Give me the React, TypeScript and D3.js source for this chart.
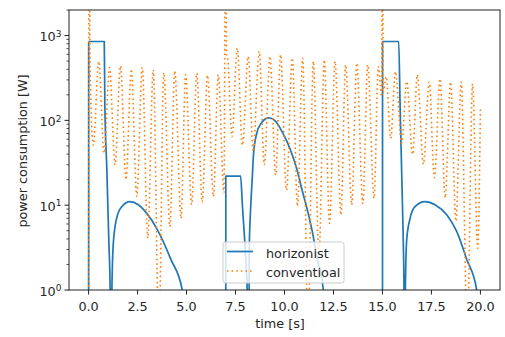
import React from 'react';
import * as d3 from 'd3';

// horizonist power [W] over time [s]
const horizT = [0, 0.005, 0.8, 0.83, 0.93, 1.03, 1.1, 1.12, 1.17, 1.19, 1.26, 1.43, 1.69, 2.11, 2.54, 2.97, 3.48, 4.2, 4.78, 4.95, 5.0,
  7.0, 7.005, 7.76, 7.85, 7.95, 8.05, 8.1, 8.12, 8.15, 8.2, 8.27, 8.35, 8.42, 8.58, 8.8, 9.2, 9.5, 9.9, 10.3, 10.62, 10.9, 11.21, 11.45, 11.64, 11.98, 12.1,
  15.0, 15.005, 15.83, 15.9, 15.98, 16.06, 16.1, 16.12, 16.15, 16.17, 16.24, 16.41, 16.66, 17.17, 17.68, 18.28, 18.79, 19.3, 19.81, 19.95, 20.0];
const horizP = [0, 850, 850, 150, 27, 4, 1, 0, 0, 1, 3.5, 7.0, 9.6, 11.0, 10.1, 8.0, 5.3, 2.3, 1.0, 0.5, 0,
  0, 22, 22, 10, 4.5, 1.8, 0.9, 0, 0, 3, 9, 20, 40, 70, 92, 107, 100, 72, 45, 27, 15, 8.0, 4.5, 2.5, 1.0, 0,
  0, 850, 850, 150, 25, 4, 1, 0, 0, 1, 4, 7, 9.6, 11.0, 10.1, 7.7, 4.9, 2.3, 1.0, 0.4, 0];

// conventional power [W] over time [s]
const convT = [0, 0.02, 0.08, 0.24, 0.52, 0.79, 1.07, 1.35, 1.63, 1.91, 2.18, 2.46, 2.74, 3.02, 3.3, 3.59, 3.84, 4.15, 4.4, 4.72,
  4.95, 5.26, 5.52, 5.8, 6.07, 6.37, 6.62, 6.91, 7.0, 7.04, 7.1, 7.32, 7.59, 7.85, 8.15, 8.4, 8.71, 8.97, 9.26, 9.55,
  9.8, 10.1, 10.4, 10.66, 10.93, 11.2, 11.47, 11.76, 12.03, 12.3, 12.58, 12.88, 13.12, 13.43, 13.69, 14.0, 14.25, 14.57, 14.79, 14.96,
  15.0, 15.04, 15.19, 15.42, 15.66, 15.98, 16.24, 16.54, 16.78, 17.09, 17.39, 17.65, 17.94, 18.2, 18.48, 18.75, 19.02, 19.33, 19.6, 19.86, 20.0];
const convP = [0, 1e5, 380, 51, 496, 41, 418, 30, 437, 20, 400, 12.7, 418, 4.1, 394, 0.3, 366, 5.6, 383, 7.0,
  344, 10.2, 360, 10.9, 339, 12.7, 344, 14, 1e5, 600, 540, 64, 710, 51, 565, 42.8, 647, 30, 565, 22.7,
  592, 15.1, 540, 9.7, 540, 0.3, 496, 2.5, 516, 6.1, 496, 7.7, 451, 10.1, 472, 10.5, 451, 12.1, 430, 190,
  1e5, 215, 328, 61.5, 376, 53.7, 287, 39.8, 344, 30.4, 282, 21.1, 308, 12.3, 282, 6.5, 282, 0.3, 269, 3.1, 136];

const xTicks = [0, 2.5, 5, 7.5, 10, 12.5, 15, 17.5, 20];
const yTickExps = [0, 1, 2, 3];
const seriesNames = ['horizonist', 'conventioal'];
const seriesColors = ['#1f77b4', '#ff7f0e'];

const W = 505, H = 337;
const L = 69, R = 500, T = 10, B = 290;
const FONT = 'DejaVu Sans, sans-serif';
const FS = 12.8;
const DOT = '1.6,3';

export default function App() {
  const x = d3.scaleLinear().domain([-1, 21]).range([L, R]);
  const y = d3.scaleLog().domain([1, 2000]).range([B, T]);
  const yv = (v: number) => y(Math.max(v, 1e-3));
  const line = d3.line<[number, number]>().x(d => x(d[0])).y(d => yv(d[1])).curve(d3.curveMonotoneX);
  const hData = horizT.map((t, i) => [t, horizP[i]] as [number, number]);
  const cData = convT.map((t, i) => [t, convP[i]] as [number, number]);

  const minor: number[] = [];
  for (let e = 0; e <= 3; e++) for (let m = 2; m <= 9; m++) { const v = m * Math.pow(10, e); if (v <= 2000) minor.push(v); }

  return (
    <svg width={W} height={H} style={{ position: 'absolute', left: 0, top: 0, background: '#fff' }} fontFamily={FONT}>
      <defs>
        <clipPath id="plot"><rect x={L} y={T} width={R - L} height={B - T} /></clipPath>
      </defs>
      <rect x={0} y={0} width={W} height={H} fill="#fff" />
      <g clipPath="url(#plot)">
        <path d={line(hData) || ''} fill="none" stroke={seriesColors[0]} strokeWidth={1.7} strokeLinejoin="round" />
        <path d={line(cData) || ''} fill="none" stroke={seriesColors[1]} strokeWidth={1.6} strokeDasharray={DOT} />
      </g>
      {/* spines */}
      <rect x={L} y={T} width={R - L} height={B - T} fill="none" stroke="#222" strokeWidth={1} />
      {/* x ticks */}
      {xTicks.map(t => (
        <g key={t}>
          <line x1={x(t)} x2={x(t)} y1={B} y2={B + 4.5} stroke="#222" strokeWidth={1} />
          <text x={x(t)} y={310.5} fontSize={FS} textAnchor="middle" fill="#262626">{t.toFixed(1)}</text>
        </g>
      ))}
      {/* y ticks */}
      {minor.map(v => (
        <line key={v} x1={L - 2.5} x2={L} y1={y(v)} y2={y(v)} stroke="#222" strokeWidth={0.8} />
      ))}
      {yTickExps.map(e => (
        <g key={e}>
          <line x1={L - 4.5} x2={L} y1={y(Math.pow(10, e))} y2={y(Math.pow(10, e))} stroke="#222" strokeWidth={1} />
          <text x={61.5} y={y(Math.pow(10, e)) + 5.8} fontSize={FS} textAnchor="end" fill="#262626">
            10<tspan fontSize={9} dy={-4.6}>{e}</tspan>
          </text>
        </g>
      ))}
      <text x={280} y={328} fontSize={FS} textAnchor="middle" fill="#262626">time [s]</text>
      <text transform={`translate(27,151) rotate(-90)`} fontSize={FS} textAnchor="middle" fill="#262626">power consumption [W]</text>
      {/* legend */}
      <g>
        <rect x={223} y={242} width={121} height={41} rx={2.5} fill="#fff" fillOpacity={0.8} stroke="#cccccc" strokeWidth={1} />
        <line x1={227} x2={253} y1={251.5} y2={251.5} stroke={seriesColors[0]} strokeWidth={1.7} />
        <text x={266} y={258} fontSize={FS} fill="#262626">{seriesNames[0]}</text>
        <line x1={227} x2={253} y1={271} y2={271} stroke={seriesColors[1]} strokeWidth={1.6} strokeDasharray={DOT} />
        <text x={266} y={277} fontSize={FS} fill="#262626">{seriesNames[1]}</text>
      </g>
    </svg>
  );
}
